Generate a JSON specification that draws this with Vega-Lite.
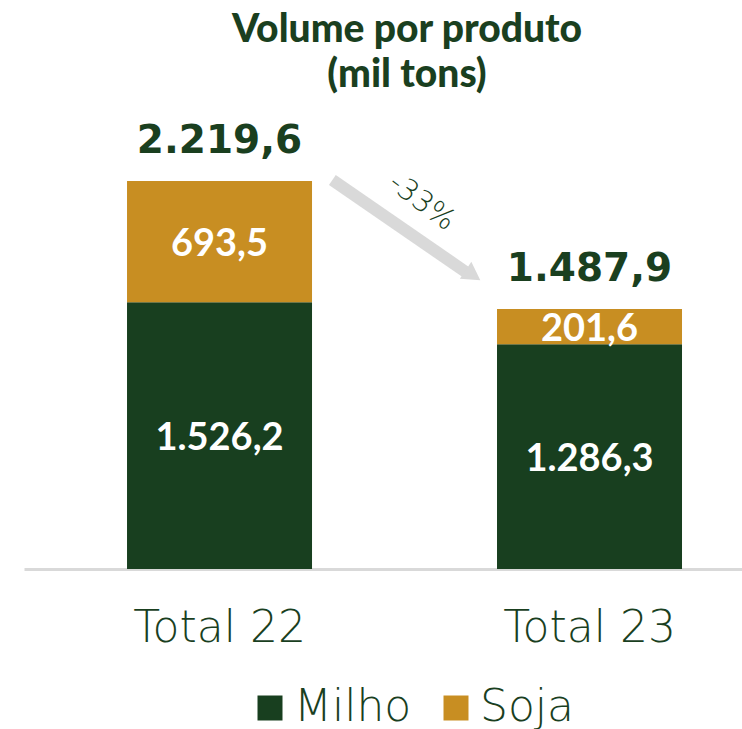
{
  "$schema": "https://vega.github.io/schema/vega-lite/v6.json",
  "width": 718,
  "height": 469,
  "autosize": {"type": "none"},
  "padding": {"left": 24, "top": 100, "right": 0, "bottom": 160},
  "background": "white",
  "config": {
    "view": {"stroke": null},
    "font": "DejaVu Sans",
    "locale": {"number": {"decimal": ",", "thousands": ".", "grouping": [3], "currency": ["", ""]}}
  },
  "title": {
    "text": ["Volume por produto", "(mil tons)"],
    "anchor": "middle",
    "dx": 24,
    "offset": 5,
    "fontSize": 39,
    "fontWeight": 900,
    "color": "#1a3f1f",
    "lineHeight": 45,
    "font": "Lato"
  },
  "datasets": {
    "produtos": [
      {"categoria": "Total 22", "produto": "Milho", "valor": 1526.2},
      {"categoria": "Total 22", "produto": "Soja", "valor": 693.5},
      {"categoria": "Total 23", "produto": "Milho", "valor": 1286.3},
      {"categoria": "Total 23", "produto": "Soja", "valor": 201.6}
    ],
    "totais": [
      {"categoria": "Total 22", "total": 2219.6},
      {"categoria": "Total 23", "total": 1487.9}
    ],
    "seta": [
      {"de": "Total 22", "para": "Total 23", "y_de": 2225, "y_para": 1700, "y_ponta": 1680, "rotulo": "-33%", "y_rotulo": 2100}
    ]
  },
  "layer": [
    {
      "data": {"name": "produtos"},
      "mark": {"type": "bar"},
      "encoding": {
        "x": {
          "field": "categoria", "type": "nominal",
          "scale": {"domain": ["Total 22", "Total 23"], "paddingInner": 0.5, "paddingOuter": 0.2203, "align": 0.632},
          "axis": {
            "title": null, "labelAngle": 0, "ticks": false,
            "domainColor": "#d9d9d9", "domainWidth": 3,
            "labelFontSize": 44, "labelFont": "DejaVu Sans", "labelFontWeight": 300,
            "labelColor": "#1a3f1f", "labelPadding": 37
          }
        },
        "y": {
          "field": "valor", "type": "quantitative", "stack": "zero",
          "scale": {"domain": [0, 2683], "nice": false, "zero": true},
          "axis": null
        },
        "order": {"field": "produto", "sort": "ascending"},
        "color": {
          "field": "produto", "type": "nominal",
          "scale": {"domain": ["Milho", "Soja"], "range": ["#183f1f", "#c88e22"]},
          "legend": {
            "title": null, "orient": "none", "direction": "horizontal",
            "legendX": 224, "legendY": 586,
            "symbolType": "square", "symbolSize": 625, "symbolStrokeWidth": 0,
            "labelFontSize": 44, "labelFont": "DejaVu Sans", "labelFontWeight": 300,
            "labelColor": "#1a3f1f", "labelOffset": 2, "columnPadding": 22, "labelLimit": 400
          }
        }
      }
    },
    {
      "data": {"name": "produtos"},
      "transform": [
        {"stack": "valor", "groupby": ["categoria"], "sort": [{"field": "produto", "order": "ascending"}], "as": ["v0", "v1"]},
        {"calculate": "(datum.v0 + datum.v1) / 2", "as": "meio"}
      ],
      "mark": {"type": "text", "color": "white", "font": "Lato", "fontSize": 38, "fontWeight": "bold", "baseline": "middle", "align": "center", "dy": 3},
      "encoding": {
        "x": {"field": "categoria", "type": "nominal"},
        "y": {"field": "meio", "type": "quantitative"},
        "text": {"field": "valor", "type": "quantitative", "format": ",.1f"}
      }
    },
    {
      "data": {"name": "totais"},
      "mark": {"type": "text", "color": "#1a3f1f", "fontSize": 39, "fontWeight": "bold", "baseline": "middle", "align": "center", "dy": -40},
      "encoding": {
        "x": {"field": "categoria", "type": "nominal"},
        "y": {"field": "total", "type": "quantitative"},
        "text": {"field": "total", "type": "quantitative", "format": ",.1f"}
      }
    },
    {
      "data": {"name": "seta"},
      "mark": {"type": "rule", "color": "#d9d9d9", "strokeWidth": 12},
      "encoding": {
        "x": {"field": "de", "type": "nominal", "bandPosition": 1.11},
        "x2": {"field": "para", "bandPosition": -0.17},
        "y": {"field": "y_de", "type": "quantitative"},
        "y2": {"field": "y_para"}
      }
    },
    {
      "data": {"name": "seta"},
      "mark": {"type": "point", "shape": "triangle-right", "filled": true, "color": "#d9d9d9", "opacity": 1, "size": 420, "angle": 34},
      "encoding": {
        "x": {"field": "para", "type": "nominal", "bandPosition": -0.13},
        "y": {"field": "y_ponta", "type": "quantitative"}
      }
    },
    {
      "data": {"name": "seta"},
      "mark": {"type": "text", "color": "#1a3f1f", "fontSize": 29, "fontWeight": 300, "angle": 37, "baseline": "middle", "align": "center"},
      "encoding": {
        "x": {"field": "de", "type": "nominal", "bandPosition": 1.595},
        "y": {"field": "y_rotulo", "type": "quantitative"},
        "text": {"field": "rotulo"}
      }
    }
  ]
}
